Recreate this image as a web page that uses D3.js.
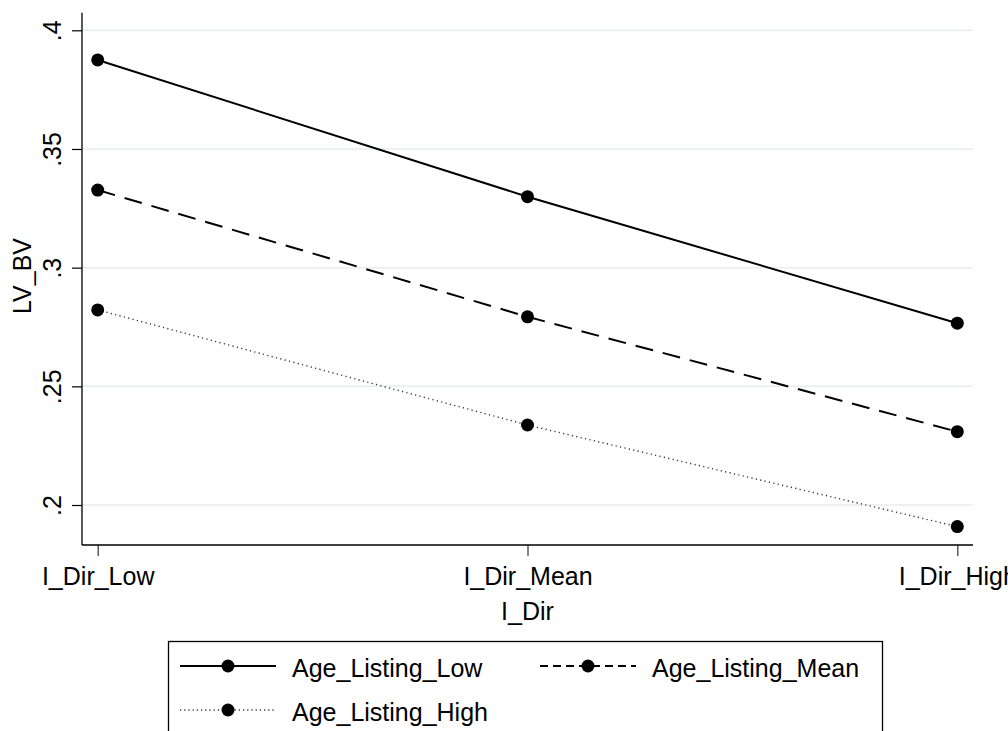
<!DOCTYPE html>
<html>
<head>
<meta charset="utf-8">
<script src="https://cdn.jsdelivr.net/npm/d3@7"></script>
<style>
  body { margin: 0; background: #fff; }
  svg { display: block; font-family: "Liberation Sans", Arial, Helvetica, sans-serif; }
</style>
</head>
<body>
<script>
// Data.
const categories = ['I_Dir_Low', 'I_Dir_Mean', 'I_Dir_High'];
const seriesNames = ['Age_Listing_Low', 'Age_Listing_Mean', 'Age_Listing_High'];
const lowValues = [0.3875, 0.3299, 0.2766];
const meanValues = [0.3327, 0.2793, 0.2309];
const highValues = [0.2822, 0.2337, 0.1909];
const yTicks = [0.2, 0.25, 0.3, 0.35, 0.4];
const yTickLabels = ['.2', '.25', '.3', '.35', '.4'];

const series = [
  {name: seriesNames[0], values: lowValues},
  {name: seriesNames[1], values: meanValues},
  {name: seriesNames[2], values: highValues}
];

// Line styles per series.
const styles = [
  {dash: null, legendDash: null, width: 2, color: '#000'},
  {dash: '18,10', legendDash: '8,5', width: 2, color: '#000'},
  {dash: '1.2,3.3', legendDash: '1.2,3', width: 1.4, color: '#333'}
];

const width = 1008, height = 731;
const plot = {left: 82, right: 973, top: 12.7, bottom: 545};

const svg = d3.select('body').append('svg')
  .attr('width', width)
  .attr('height', height);

const xScale = d3.scalePoint()
  .domain(categories)
  .range([97.7, 957.3]);

const yScale = d3.scaleLinear()
  .domain([0.2, 0.4])
  .range([505, 30.3]);

// Gridlines.
svg.append('g')
  .selectAll('line')
  .data(yTicks)
  .enter()
  .append('line')
  .attr('x1', plot.left)
  .attr('x2', plot.right)
  .attr('y1', d => yScale(d))
  .attr('y2', d => yScale(d))
  .attr('stroke', '#e6eef1')
  .attr('stroke-width', 1.5);

// Axes.
const yAxis = d3.axisLeft(yScale)
  .tickValues(yTicks)
  .tickFormat((d, i) => yTickLabels[i])
  .tickSize(10)
  .tickPadding(0);

const yG = svg.append('g')
  .attr('transform', 'translate(' + plot.left + ',0)')
  .call(yAxis);
yG.select('.domain').remove();
yG.selectAll('.tick line').attr('stroke', '#000').attr('stroke-width', 1.2);
yG.selectAll('.tick text')
  .attr('x', 0)
  .attr('dy', 0)
  .attr('transform', 'translate(-21,0) rotate(-90)')
  .attr('text-anchor', 'middle')
  .attr('font-size', 25)
  .attr('fill', '#000');

const xAxis = d3.axisBottom(xScale)
  .tickSize(11)
  .tickPadding(0);

const xG = svg.append('g')
  .attr('transform', 'translate(0,' + plot.bottom + ')')
  .call(xAxis);
xG.select('.domain').remove();
xG.selectAll('.tick line').attr('stroke', '#333').attr('stroke-width', 1.2);
xG.selectAll('.tick text')
  .attr('y', 40)
  .attr('dy', 0)
  .attr('font-size', 25)
  .attr('fill', '#000');

// Axis lines.
svg.append('line')
  .attr('x1', plot.left).attr('x2', plot.left)
  .attr('y1', plot.top).attr('y2', plot.bottom)
  .attr('stroke', '#000').attr('stroke-width', 1.3);
svg.append('line')
  .attr('x1', plot.left).attr('x2', plot.right)
  .attr('y1', plot.bottom).attr('y2', plot.bottom)
  .attr('stroke', '#000').attr('stroke-width', 1.3);

// Axis titles.
svg.append('text')
  .attr('x', (xScale(categories[0]) + xScale(categories[2])) / 2)
  .attr('y', 620)
  .attr('text-anchor', 'middle')
  .attr('font-size', 25)
  .text('I_Dir');

svg.append('text')
  .attr('transform', 'translate(31,276) rotate(-90)')
  .attr('text-anchor', 'middle')
  .attr('font-size', 25)
  .text('LV_BV');

// Lines and markers.
const line = d3.line()
  .x((d, i) => xScale(categories[i]))
  .y(d => yScale(d));

series.forEach((s, k) => {
  svg.append('path')
    .datum(s.values)
    .attr('d', line)
    .attr('fill', 'none')
    .attr('stroke', styles[k].color)
    .attr('stroke-width', styles[k].width)
    .attr('stroke-dasharray', styles[k].dash);

  svg.append('g')
    .selectAll('circle')
    .data(s.values)
    .enter()
    .append('circle')
    .attr('cx', (d, i) => xScale(categories[i]))
    .attr('cy', d => yScale(d))
    .attr('r', 6.5)
    .attr('fill', '#000');
});

// Legend.
const legend = svg.append('g');
legend.append('rect')
  .attr('x', 168.5)
  .attr('y', 641.5)
  .attr('width', 714)
  .attr('height', 120)
  .attr('fill', '#fff')
  .attr('stroke', '#000')
  .attr('stroke-width', 1.3);

const legendPos = [
  {x: 180, y: 666},
  {x: 540, y: 666},
  {x: 180, y: 710}
];

series.forEach((s, k) => {
  const p = legendPos[k];
  legend.append('line')
    .attr('x1', p.x).attr('x2', p.x + 96)
    .attr('y1', p.y).attr('y2', p.y)
    .attr('stroke', styles[k].color)
    .attr('stroke-width', styles[k].width)
    .attr('stroke-dasharray', styles[k].legendDash);
  legend.append('circle')
    .attr('cx', p.x + 48)
    .attr('cy', p.y)
    .attr('r', 6.5)
    .attr('fill', '#000');
  legend.append('text')
    .attr('x', p.x + 112)
    .attr('y', p.y + 10.5)
    .attr('font-size', 25)
    .text(s.name);
});
</script>
</body>
</html>
